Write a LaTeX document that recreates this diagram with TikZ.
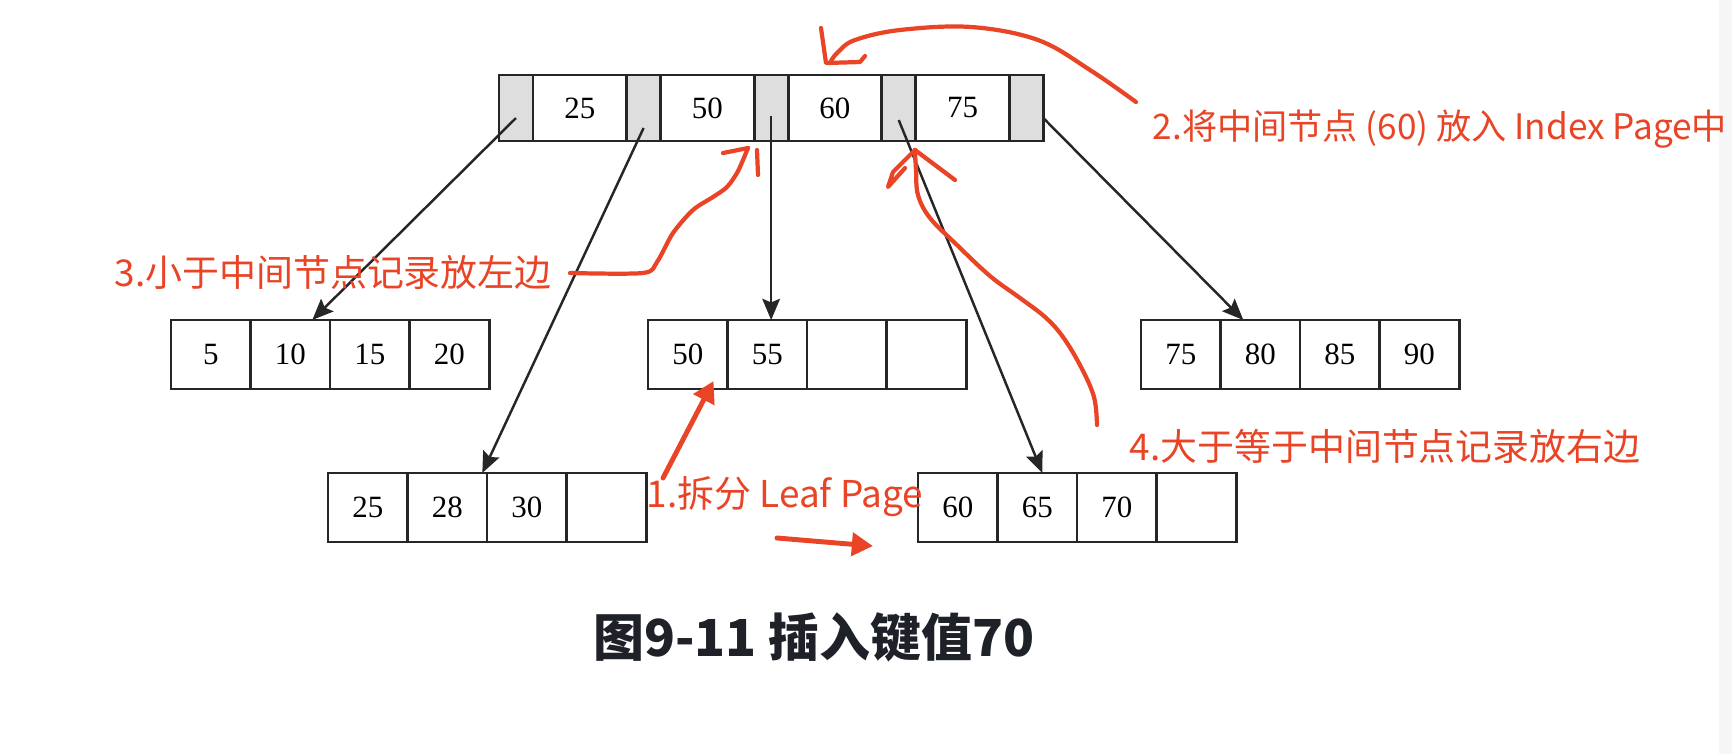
\documentclass[tikz,border=0pt]{standalone}
\usepackage{xcolor}
\usepackage{fontspec}
\setmainfont{Liberation Serif}
\newfontfamily\cjk{Noto Sans CJK SC}
\usetikzlibrary{arrows.meta, positioning}

\definecolor{penred}{RGB}{233,68,38}
\definecolor{ptrgray}{RGB}{222,222,222}
\definecolor{inkdark}{RGB}{30,34,40}
\definecolor{sidebar}{RGB}{245,246,248}

\begin{document}
\begin{tikzpicture}[x=0.01cm, y=-0.01cm, node distance=0.6375cm,
    cell/.style = {draw=black!85, line width=0.8pt, inner sep=0pt, outer sep=0pt,
                   font=\fontsize{8.8pt}{10pt}\selectfont},
    keycell/.style = {cell, minimum width=0.935cm, minimum height=0.66cm},
    ptrcell/.style = {cell, fill=ptrgray, minimum width=0.34cm, minimum height=0.66cm},
    leafcell/.style = {cell, minimum width=0.795cm, minimum height=0.69cm, node distance=0.795cm},
    link/.style = {draw=black!85, line width=0.7pt, -{Stealth[length=6pt, width=5pt, inset=1pt]}},
    pen/.style = {draw=penred, line width=1.2pt, line cap=round, line join=round},
    dart/.style = {pen, line width=1.4pt, -{Triangle[length=6pt, width=6.5pt]}},
    note/.style = {text=penred, anchor=west, inner sep=0pt, font=\cjk\fontsize{10.5pt}{12pt}\selectfont}]
    \useasboundingbox (0,0) rectangle (1732,754);
    \clip (0,0) rectangle (1732,754);
    \fill[white] (0,0) rectangle (1732,754);
    \fill[sidebar] (1719,0) rectangle (1732,754);

    % index page
    \node[ptrcell] (p0) at (516,108) {};
    \node[keycell] (k1) [right of=p0] {25};
    \node[ptrcell] (p1) [right of=k1] {};
    \node[keycell] (k2) [right of=p1] {50};
    \node[ptrcell] (p2) [right of=k2] {};
    \node[keycell] (k3) [right of=p2] {60};
    \node[ptrcell] (p3) [right of=k3] {};
    \node[keycell] (k4) [right of=p3] {75};
    \node[ptrcell] (p4) [right of=k4] {};

    % leaf pages
    \node[leafcell] (a1) at (210.75,354.5) {5};
    \node[leafcell] (a2) [right of=a1] {10};
    \node[leafcell] (a3) [right of=a2] {15};
    \node[leafcell] (a4) [right of=a3] {20};

    \node[leafcell] (b1) at (687.75,354.5) {50};
    \node[leafcell] (b2) [right of=b1] {55};
    \node[leafcell] (b3) [right of=b2] {};
    \node[leafcell] (b4) [right of=b3] {};

    \node[leafcell] (c1) at (1180.75,354.5) {75};
    \node[leafcell] (c2) [right of=c1] {80};
    \node[leafcell] (c3) [right of=c2] {85};
    \node[leafcell] (c4) [right of=c3] {90};

    \node[leafcell] (d1) at (367.75,507.5) {25};
    \node[leafcell] (d2) [right of=d1] {28};
    \node[leafcell] (d3) [right of=d2] {30};
    \node[leafcell] (d4) [right of=d3] {};

    \node[leafcell] (e1) at (957.75,507.5) {60};
    \node[leafcell] (e2) [right of=e1] {65};
    \node[leafcell] (e3) [right of=e2] {70};
    \node[leafcell] (e4) [right of=e3] {};

    \draw[link] ([yshift=-0.1cm]p0.center) -- ([xshift=0.22cm]a2.north);
    \draw[link] ([yshift=-0.2cm]p1.center) -- ([xshift=0.35cm]d2.north);
    \draw[link] ([yshift=-0.08cm]p2.center) -- (p2.center |- b2.north);
    \draw[link] ([yshift=-0.12cm]p3.center) -- ([xshift=0.05cm]e2.north);
    \draw[link] ([yshift=-0.1cm]p4.east) -- ([xshift=-0.17cm]c2.north);

    % notes
    \node[note] (t1) at (646,497) {1.拆分 Leaf Page};
    \node[note, font=\cjk\fontsize{10pt}{12pt}\selectfont] (t2) at (1152,129) {2.将中间节点 (60) 放入 Index Page中};
    \node[note] (t3) at (114,272) {3.小于中间节点记录放左边};
    \node[note] (t4) at (1129,446) {4.大于等于中间节点记录放右边};
    \node[text=inkdark, font=\cjk\bfseries\fontsize{14.5pt}{17pt}\selectfont] (title) at (814,637) {图9-11 插入键值70};

    % hand drawn marks
    \draw[pen] plot[smooth, tension=0.6] coordinates {(1136,102) (1090,70) (1038,40) (971,27) (900,30) (855,40) (838,52) (831,61)};
    \draw[pen] (821,28) -- (826,63) -- (860,62) -- (865,56);

    \draw[pen] plot[smooth, tension=0.5] coordinates {(570,273) (643,273) (657,262) (673,233) (693,210) (713,197) (727,187) (737,173) (743,160) (748,148)};
    \draw[pen] (723,153) -- (748,148);
    \draw[pen] (757,150) -- (758,175);

    \draw[pen] plot[smooth, tension=0.6] coordinates {(1097,425) (1094,397) (1081,367) (1063,337) (1045,317) (1020,298) (990,276) (957,245) (930,218) (918,195) (916,170) (915,150)};
    \draw[pen] (915,150) -- (893,172) -- (888,187) -- (905,168);
    \draw[pen] (915,150) -- (955,180);

    \coordinate (tail1) at (663,478);
    \coordinate (tail2) at (777,538);
    \draw[dart] (tail1) -- ([shift={(-0.14cm,0.08cm)}]b1.south east);
    \draw[dart] (tail2) -- ([shift={(-0.45cm,-0.04cm)}]e1.south west);
\end{tikzpicture}
\end{document}
